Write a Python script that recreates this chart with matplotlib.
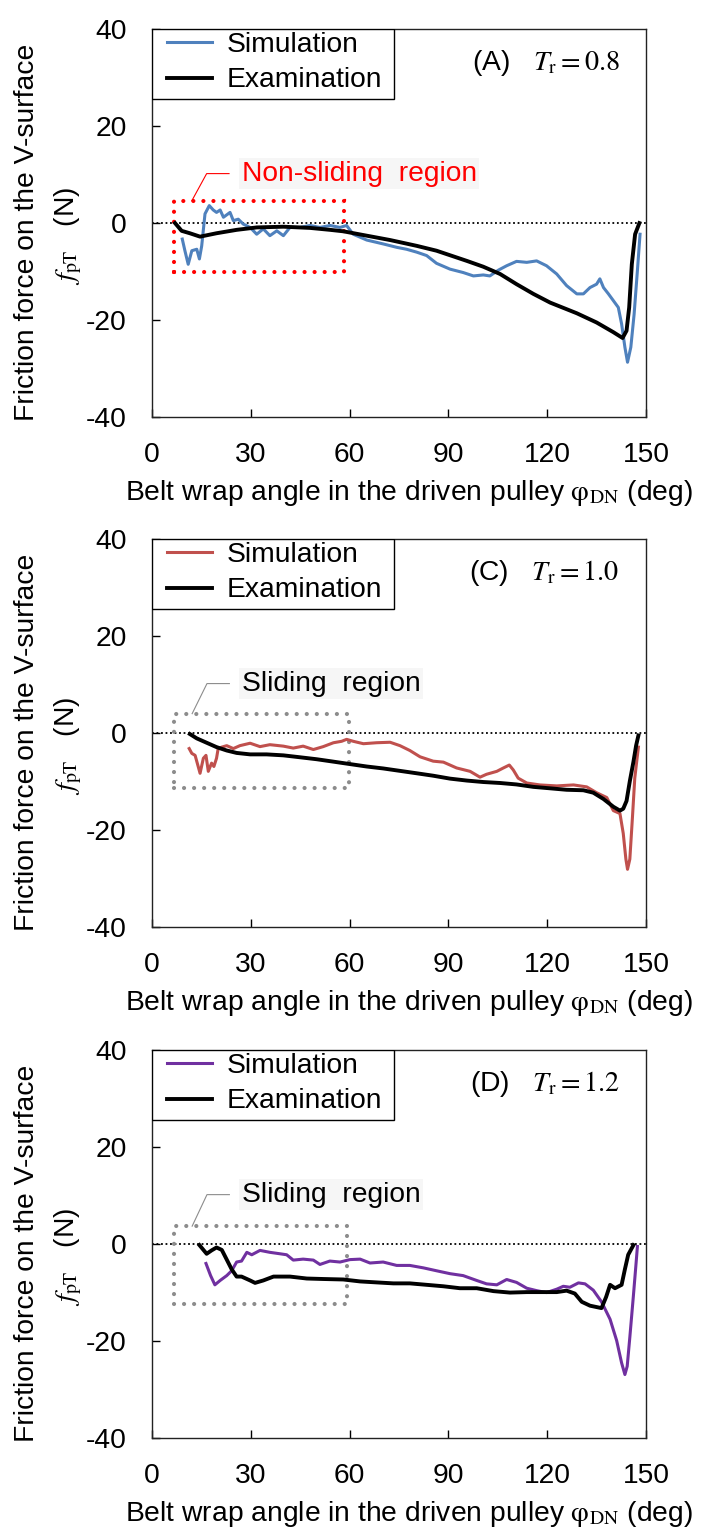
import numpy as np
import matplotlib
matplotlib.use('agg')
import matplotlib.pyplot as plt
from matplotlib.patches import Rectangle

plt.rcParams['font.family'] = ['Liberation Sans', 'DejaVu Sans']
plt.rcParams['mathtext.fontset'] = 'stix'
plt.rcParams['axes.unicode_minus'] = False

# ---- panel A (Tr = 0.8) ----
a_sim_x = [9.2, 10.0, 11.0, 12.1, 13.6, 14.4, 15.1, 16.1, 17.4, 18.6, 19.6, 20.7, 21.7, 23.7, 24.7, 26.2,
           27.7, 29.8, 31.8, 33.8, 35.8, 37.9, 39.9, 41.9, 44.9, 48.0, 51.0, 54.1, 57.1, 59.1, 61.1, 65.2,
           70.2, 74.3, 77.3, 80.4, 83.4, 86.4, 90.5, 94.5, 97.6, 100.6, 102.6, 105.2, 107.7, 110.7, 113.8,
           116.8, 119.8, 122.9, 125.9, 129.0, 131.0, 133.0, 135.0, 136.0, 137.1, 138.6, 140.1, 141.6, 142.6,
           143.6, 144.4, 145.4, 146.4, 147.4, 148.2]
a_sim_y = [-3.3, -5.7, -8.5, -5.7, -5.4, -7.4, -4.7, 1.9, 3.6, 2.7, 2.2, 2.7, 1.2, 2.2, 0.5, 0.8,
           -0.2, -0.9, -2.3, -1.2, -2.6, -1.6, -2.6, -0.9, -0.9, -0.5, -0.9, -0.5, -0.9, -0.5, -2.3, -3.5,
           -4.3, -5.0, -5.4, -6.0, -6.7, -8.3, -9.5, -10.2, -10.9, -10.7, -10.9, -9.7, -8.8, -7.9, -8.1,
           -7.8, -8.8, -10.5, -12.9, -14.6, -14.6, -13.3, -12.6, -11.5, -13.3, -14.6, -16.0, -17.4, -20.8,
           -25.6, -28.7, -25.6, -18.8, -9.8, -2.3]
a_exam_x = [7.0, 9.0, 11.5, 14.6, 19.6, 25.7, 31.8, 39.9, 48.0, 54.1, 58.1, 65.2, 72.3, 80.4, 86.4,
            95.6, 100.6, 105.7, 110.7, 115.8, 120.9, 129.0, 135.0, 140.1, 142.9, 144.1, 144.9, 145.7,
            146.7, 148.0]
a_exam_y = [0.0, -1.6, -2.1, -2.8, -2.1, -1.4, -0.9, -0.75, -1.0, -1.4, -1.7, -2.6, -3.5, -4.7, -5.7,
            -7.8, -9.0, -10.5, -12.6, -14.6, -16.4, -18.6, -20.5, -22.5, -23.7, -22.2, -17.4, -8.5,
            -2.3, 0.0]

# ---- panel C (Tr = 1.0) ----
c_sim_x = [11.3, 12.1, 13.1, 14.6, 15.6, 16.4, 17.1, 18.1, 18.8, 19.6, 20.1, 21.2, 22.7, 24.7, 26.7,
           29.8, 32.8, 35.8, 39.9, 42.9, 45.9, 49.0, 52.0, 55.1, 57.6, 59.1, 61.1, 64.2, 68.2, 72.3,
           75.3, 78.3, 81.4, 85.4, 88.5, 92.5, 96.6, 99.6, 101.6, 104.7, 106.7, 108.5, 109.7, 111.2,
           113.8, 117.8, 122.9, 128.0, 132.0, 135.0, 138.1, 140.1, 142.1, 143.1, 143.9, 144.4, 145.1,
           145.9, 146.6, 147.7]
c_sim_y = [-3.2, -4.2, -4.6, -8.3, -5.2, -4.6, -7.9, -6.2, -6.9, -5.2, -3.2, -2.9, -2.6, -3.2, -2.6,
           -2.1, -2.8, -2.4, -2.7, -3.1, -2.7, -3.4, -2.8, -2.0, -1.7, -1.3, -1.7, -2.2, -2.0, -1.9,
           -2.6, -3.6, -4.9, -5.8, -6.0, -7.2, -7.9, -9.1, -8.5, -7.9, -7.2, -6.6, -7.6, -9.3,
           -10.3, -10.7, -10.9, -10.7, -11.1, -12.3, -13.3, -16.0, -16.6, -20.7, -26.0, -28.1, -26.0,
           -17.3, -9.3, -2.9]
c_exam_x = [11.5, 13.6, 16.6, 19.6, 22.7, 25.7, 29.8, 34.8, 39.9, 45.0, 50.0, 55.1, 60.1, 65.2, 70.2,
            75.3, 80.4, 85.4, 90.5, 95.6, 100.6, 105.7, 110.7, 115.8, 120.9, 125.9, 131.0, 134.0,
            137.1, 140.1, 142.1, 143.1, 144.1, 145.1, 146.2, 147.0, 147.7]
c_exam_y = [-0.2, -1.1, -2.0, -2.9, -3.6, -4.1, -4.4, -4.4, -4.6, -5.0, -5.4, -5.9, -6.4, -6.9, -7.3,
            -7.8, -8.3, -8.8, -9.4, -9.8, -10.1, -10.3, -10.6, -11.1, -11.4, -11.7, -11.8, -12.3,
            -13.6, -15.2, -16.0, -15.6, -14.0, -9.9, -5.9, -2.6, -0.5]

# ---- panel D (Tr = 1.2) ----
d_sim_x = [16.4, 17.8, 19.1, 20.7, 22.7, 24.2, 25.7, 27.2, 28.8, 30.3, 32.8, 35.8, 38.9, 40.9, 42.9,
           45.9, 49.0, 51.0, 54.0, 57.1, 60.1, 63.2, 66.2, 70.2, 74.3, 78.3, 82.4, 86.4, 90.5, 94.5,
           98.6, 101.6, 104.7, 107.7, 110.7, 113.8, 116.8, 119.8, 122.9, 124.9, 126.9, 129.5, 131.5,
           134.0, 136.5, 139.1, 141.1, 142.6, 143.6, 144.3, 145.1, 146.2, 147.0, 147.4]
d_sim_y = [-4.0, -6.5, -8.4, -7.5, -6.5, -5.5, -3.7, -3.5, -1.7, -2.2, -1.3, -1.7, -2.0, -2.2, -3.3,
           -3.1, -3.3, -4.2, -3.5, -3.7, -3.2, -3.1, -3.9, -3.7, -4.4, -4.4, -4.9, -5.5, -6.1, -6.5,
           -7.5, -8.2, -8.4, -7.3, -7.9, -9.1, -9.6, -10.0, -9.3, -8.7, -8.9, -8.0, -8.2,
           -9.5, -11.9, -15.5, -19.9, -24.5, -26.9, -25.2, -19.2, -10.5, -3.9, -0.5]
d_exam_x = [14.4, 16.6, 18.1, 19.6, 21.2, 22.7, 24.2, 25.7, 27.2, 29.8, 31.3, 33.8, 36.9, 41.9, 47.0,
            52.0, 58.1, 63.2, 68.2, 73.3, 78.3, 83.4, 88.5, 93.5, 98.6, 103.7, 108.7, 113.8, 118.8,
            122.9, 125.9, 128.4, 130.5, 133.0, 136.5, 137.9, 139.1, 140.6, 142.6, 143.6, 144.6, 146.2]
d_exam_y = [-0.2, -2.0, -1.3, -0.7, -1.2, -3.2, -5.2, -6.7, -6.7, -7.5, -8.0, -7.5, -6.7, -6.7, -7.1,
            -7.2, -7.3, -7.7, -7.9, -8.1, -8.1, -8.4, -8.7, -9.1, -9.1, -9.7, -10.0, -9.9, -9.9,
            -9.9, -9.6, -10.2, -11.9, -12.7, -13.2, -10.9, -8.4, -9.1, -8.4, -5.2, -2.2, -0.2]

panel_tags = ['(A)', '(C)', '(D)']
tr_values = ['0.8', '1.0', '1.2']
sim_colors = ['#4F81BD', '#C0504D', '#7030A0']
region_labels = ['Non-sliding  region', 'Sliding  region', 'Sliding  region']
region_colors = ['#FF0000', '#8C8C8C', '#8C8C8C']
region_text_colors = ['#FF0000', 'black', 'black']
region_boxes = [(6.6, -10.0, 58.4, 4.6), (6.7, -11.3, 59.8, 4.0), (6.7, -12.4, 59.2, 3.7)]

sims = [(a_sim_x, a_sim_y), (c_sim_x, c_sim_y), (d_sim_x, d_sim_y)]
exams = [(a_exam_x, a_exam_y), (c_exam_x, c_exam_y), (d_exam_x, d_exam_y)]

fig = plt.figure(figsize=(7.01, 15.31), dpi=100)
bottoms = [0.7276, 0.3945, 0.0607]
FS = 20.3

for i in range(3):
    ax = fig.add_axes([0.2168, bottoms[i], 0.7047, 0.2534])
    ax.axhline(0, color='black', lw=1.3, ls=(0, (1, 1.5)), zorder=1)

    x0, y0, x1, y1 = region_boxes[i]
    ax.add_patch(Rectangle((x0, y0), x1 - x0, y1 - y0, fill=False, edgecolor=region_colors[i],
                           lw=3, linestyle=(0, (0.01, 2.4)), capstyle='round', zorder=2))
    # leader line to the label
    ax.plot([x0 + 5.5, x0 + 10, x0 + 16.8], [y1, 10.2, 10.2], color=region_colors[i], lw=0.8, zorder=2)
    ax.text(x0 + 20.6, 10.2, region_labels[i], color=region_text_colors[i], fontsize=FS,
            va='center', ha='left', bbox=dict(facecolor='#F6F6F6', edgecolor='none', pad=2))

    sx, sy = sims[i]
    ex, ey = exams[i]
    ax.plot(sx, sy, color=sim_colors[i], lw=2.2, label='Simulation', zorder=3)
    ax.plot(ex, ey, color='black', lw=2.8, label='Examination', zorder=4)

    ax.set_xlim(0, 150)
    ax.set_ylim(-40, 40)
    ax.set_xticks([0, 30, 60, 90, 120, 150])
    ax.set_yticks([-40, -20, 0, 20, 40])
    ax.tick_params(direction='in', length=6, width=1, labelsize=FS, pad=18, top=False, right=False)
    for sp in ax.spines.values():
        sp.set_linewidth(1.0)
        sp.set_color('#222222')

    # legend box flush with the top-left corner of the axes
    ax.add_patch(Rectangle((0, 1 - 70 / 388), 242 / 494, 70 / 388, transform=ax.transAxes,
                           facecolor='white', edgecolor='black', lw=1.0, zorder=5))
    leg = ax.legend(loc='upper left', bbox_to_anchor=(15 / 494, 1 - 3 / 388), borderaxespad=0,
                    frameon=False, fontsize=FS, handlelength=1.6, handletextpad=0.53,
                    labelspacing=0.33, borderpad=0)
    leg.set_zorder(6)

    ax.text(0.947, 0.912, panel_tags[i] + '   $T_{\\mathrm{r}} = ' + tr_values[i] + '$',
            transform=ax.transAxes, ha='right', va='center', fontsize=FS)

    ax.text(-0.253, 0.475, 'Friction force on the V-surface', transform=ax.transAxes,
            rotation=90, ha='center', va='center', fontsize=FS)
    ax.text(-0.17, 0.466, '$f_{\\mathrm{pT}}$   (N)', transform=ax.transAxes,
            rotation=90, ha='center', va='center', fontsize=FS)
    ax.text(0.52, -0.196, 'Belt wrap angle in the driven pulley $\\mathrm{\\varphi}_{\\mathrm{DN}}$ (deg)',
            transform=ax.transAxes, ha='center', va='center', fontsize=FS)

fig.savefig('out.png', dpi=100)
